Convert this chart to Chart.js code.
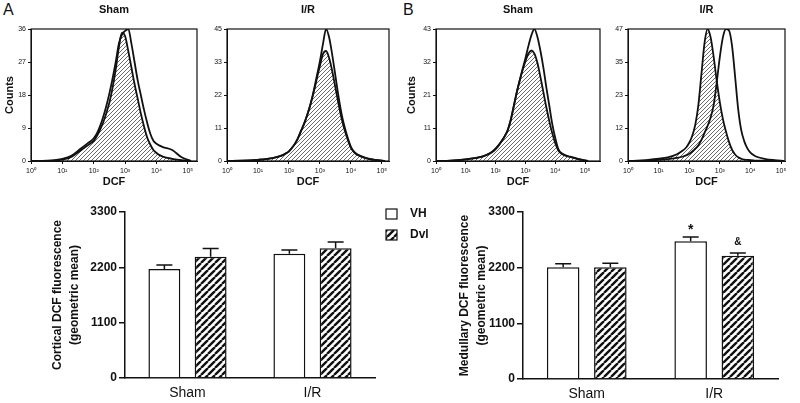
<!DOCTYPE html>
<html lang="en">
<head>
<meta charset="UTF-8">
<title>DCF fluorescence</title>
<script src="https://cdn.jsdelivr.net/npm/chart.js"></script>
<style>
  body { margin: 0; width: 800px; height: 403px; position: relative; overflow: hidden; background: #fff;
         font-family: "Liberation Sans", Arial, sans-serif; }
  canvas, .panel { position: absolute; }
  .panel { font-size: 16px; line-height: 1; color: #111; }
</style>
</head>
<body>
<div class="panel" style="left:3px;top:2px">A</div>
<div class="panel" style="left:403px;top:2px">B</div>
<canvas id="h1" width="205" height="190" style="left:0;top:0"></canvas>
<canvas id="h2" width="198" height="190" style="left:200px;top:0"></canvas>
<canvas id="h3" width="208" height="190" style="left:400px;top:0"></canvas>
<canvas id="h4" width="195" height="190" style="left:605px;top:0"></canvas>
<canvas id="cortical" width="345" height="203" style="left:40px;top:200px"></canvas>
<canvas id="medullary" width="420" height="208" style="left:380px;top:195px"></canvas>
<script>
// histogram samples: log10(DCF) position and counts
var logDCF = [0, 0.5, 1.0, 1.3, 1.6, 1.8, 1.9, 2.0, 2.1, 2.2, 2.3, 2.4, 2.5, 2.6, 2.7, 2.8, 2.9, 3.0, 3.1, 3.2, 3.3, 3.4, 3.5, 3.6, 3.7, 3.8, 3.9, 4.0, 4.1, 4.2, 4.5, 4.8, 5.1];
var cortexShamVH  = [0, 0.1, 0.6, 1.5, 3.5, 4.8, 5.4, 6.2, 7.5, 9.5, 12, 15, 18.5, 22.5, 27, 32, 34.5, 35.5, 36, 32, 27, 22, 18, 14, 10.5, 7.5, 5.5, 4.7, 4.2, 3.8, 3, 1, 0];
var cortexShamDvl = [0, 0, 0.4, 1.2, 3, 4.2, 4.8, 5.5, 6.8, 8.5, 10.5, 13, 16, 20, 25, 31, 35, 34, 30, 25.5, 21, 17, 13, 9.5, 6.5, 4.5, 3, 2.2, 1.6, 1.2, 0.6, 0.2, 0];
var cortexIRVH    = [0, 0.1, 0.4, 0.7, 1.3, 2, 2.6, 3.3, 4.5, 6, 8, 10.5, 13, 16, 19.5, 24, 29, 34, 40, 45, 42, 36, 29, 22, 16, 11.5, 7.8, 4.8, 3.2, 2.3, 1, 0.4, 0];
var cortexIRDvl   = [0, 0.1, 0.4, 0.7, 1.3, 2, 2.6, 3.3, 4.5, 6, 8, 10.5, 13, 16, 19.5, 23.5, 28, 32.5, 36.5, 37.5, 35, 30.5, 25, 19.5, 14.5, 10.5, 7.2, 4.5, 3, 2.1, 0.9, 0.3, 0];
var medShamVH     = [0, 0.1, 0.5, 0.9, 1.6, 2.5, 3.2, 4.1, 5.2, 6.5, 8, 9.8, 13, 17.5, 22, 26, 29.8, 33.5, 37.5, 41, 43, 40.5, 36, 30.5, 24, 18, 12, 7.5, 4, 2.6, 1.4, 0.6, 0];
var medShamDvl    = [0, 0.1, 0.5, 0.9, 1.6, 2.4, 3, 3.9, 5, 6.4, 8, 10, 13.2, 17.5, 22, 26, 29.5, 32.5, 35, 36, 35, 32, 27.5, 22.5, 17.5, 13, 9, 5.8, 3.5, 2.4, 1.3, 0.5, 0];
var medIRVH       = [0, 0.1, 0.4, 0.7, 1.1, 1.6, 2, 2.6, 3.4, 4.4, 5.6, 7.5, 10, 12.5, 15.5, 20, 28, 37, 44, 47, 46.5, 41, 30, 18.5, 11, 7, 4.5, 3, 2.1, 1.5, 0.7, 0.3, 0];
var medIRDvl      = [0, 0.2, 0.8, 1.3, 2.4, 3.8, 4.8, 6.5, 9, 13, 20, 31, 42, 47, 44, 37, 28.5, 21, 15, 10.5, 6.8, 4, 2.3, 1.3, 0.8, 0.5, 0.4, 0.3, 0.2, 0.1, 0.1, 0, 0];

// y tick labels of each histogram
var ticksH1 = [0, 9, 18, 27, 36];
var ticksH2 = [0, 11, 22, 33, 45];
var ticksH3 = [0, 11, 21, 32, 43];
var ticksH4 = [0, 12, 23, 35, 47];
var decades = [0, 1, 2, 3, 4, 5];

// bar charts (geometric mean, SEM)
var groups = ['Sham', 'I/R'];
var cortVH = [2165, 2470];
var cortVHErr = [80, 73];
var cortDvl = [2410, 2580];
var cortDvlErr = [165, 125];
var medVH = [2210, 2720];
var medVHErr = [66, 86];
var medDvl = [2210, 2435];
var medDvlErr = [79, 53];
var medVHMarks = ['', '*'];
var medDvlMarks = ['', '&'];

var INK = '#111';
var FONT = '"Liberation Sans", Arial, sans-serif';
Chart.defaults.font.family = FONT;
Chart.defaults.color = INK;

function hatch(size, lw, color, bg) {
  var c = document.createElement('canvas');
  c.width = size; c.height = size;
  var g = c.getContext('2d');
  if (bg) { g.fillStyle = bg; g.fillRect(0, 0, size, size); }
  g.strokeStyle = color;
  g.lineWidth = lw;
  g.beginPath();
  for (var k = -1; k <= 1; k++) {
    g.moveTo(k * size, size);
    g.lineTo(k * size + size, 0);
  }
  g.stroke();
  return g.createPattern(c, 'repeat');
}

var sup = ['\u2070', '\u00b9', '\u00b2', '\u00b3', '\u2074', '\u2075'];

// box round the histogram + title over it
var frame = {
  id: 'frame',
  afterDraw: function(chart, args, opts) {
    var a = chart.chartArea, ctx = chart.ctx;
    ctx.save();
    ctx.strokeStyle = INK;
    ctx.lineWidth = 1.2;
    ctx.strokeRect(a.left, a.top, a.right - a.left, a.bottom - a.top);
    ctx.fillStyle = INK;
    ctx.font = 'bold 11px ' + FONT;
    ctx.textAlign = 'center';
    ctx.textBaseline = 'middle';
    ctx.fillText(opts.text, (a.left + a.right) / 2, 10);
    ctx.restore();
  }
};

function histogram(id, cfg) {
  function pts(arr) {
    return logDCF.map(function(e, i) { return { x: Math.pow(10, e), y: arr[i] }; });
  }
  var thin = hatch(4, 0.8, '#444', null);
  new Chart(document.getElementById(id), {
    type: 'line',
    data: {
      datasets: [
        { label: 'VH', data: pts(cfg.vh), borderColor: INK, borderWidth: 1.8, fill: false,
          pointRadius: 0, cubicInterpolationMode: 'monotone' },
        { label: 'Dvl', data: pts(cfg.dvl), borderColor: INK, borderWidth: 1.8, fill: 'origin',
          backgroundColor: thin, pointRadius: 0, cubicInterpolationMode: 'monotone' }
      ]
    },
    options: {
      responsive: false,
      animation: false,
      layout: { padding: { top: 29, right: cfg.padRight, left: 0, bottom: 0 } },
      plugins: { legend: { display: false }, tooltip: { enabled: false }, frame: { text: cfg.title } },
      scales: {
        x: {
          type: 'logarithmic', min: 1, max: Math.pow(10, cfg.xMax),
          afterBuildTicks: function(s) { s.ticks = decades.map(function(e) { return { value: Math.pow(10, e) }; }); },
          ticks: { callback: function(v) { return '10' + sup[Math.round(Math.log10(v))]; },
                   font: { size: 7 }, padding: 3, maxRotation: 0, autoSkip: false },
          grid: { drawOnChartArea: false, tickLength: 3, color: INK },
          border: { color: INK },
          title: { display: true, text: 'DCF', font: { size: 11, weight: 'bold' }, padding: { top: 0, bottom: 1 } },
          afterFit: function(s) { s.height = 29; }
        },
        y: {
          min: 0, max: cfg.yMax,
          afterBuildTicks: function(s) { s.ticks = cfg.yTicks.map(function(t, i) { return { value: cfg.yMax * i / 4 }; }); },
          ticks: { callback: function(v, i) { return cfg.yTicks[i]; }, font: { size: 7 }, padding: 2 },
          grid: { drawOnChartArea: false, tickLength: 3, color: INK },
          border: { color: INK },
          title: { display: cfg.counts, text: 'Counts', font: { size: 11, weight: 'bold' },
                   padding: { top: cfg.countsPad || 0, bottom: 0 } },
          afterFit: function(s) { s.width = cfg.yWidth; }
        }
      }
    },
    plugins: [frame]
  });
}

histogram('h1', { vh: cortexShamVH, dvl: cortexShamDvl, yMax: 36, yTicks: ticksH1, xMax: 5.29,
                  yWidth: 31, padRight: 8, title: 'Sham', counts: true, countsPad: 3.5 });
histogram('h2', { vh: cortexIRVH, dvl: cortexIRDvl, yMax: 45, yTicks: ticksH2, xMax: 5.23,
                  yWidth: 27, padRight: 9, title: 'I/R', counts: false });
histogram('h3', { vh: medShamVH, dvl: medShamDvl, yMax: 43, yTicks: ticksH3, xMax: 5.5,
                  yWidth: 36, padRight: 8, title: 'Sham', counts: true, countsPad: 5 });
histogram('h4', { vh: medIRVH, dvl: medIRDvl, yMax: 47, yTicks: ticksH4, xMax: 5.13,
                  yWidth: 23, padRight: 15, title: 'I/R', counts: false });

// error bars (upper half only) and significance marks
var errorBars = {
  id: 'errorBars',
  afterDatasetsDraw: function(chart) {
    var ctx = chart.ctx, y = chart.scales.y;
    chart.data.datasets.forEach(function(ds, di) {
      chart.getDatasetMeta(di).data.forEach(function(bar, i) {
        var top = y.getPixelForValue(ds.data[i] + ds.errors[i]);
        ctx.save();
        ctx.strokeStyle = INK;
        ctx.lineWidth = 1.5;
        ctx.beginPath();
        ctx.moveTo(bar.x, bar.y);
        ctx.lineTo(bar.x, top);
        ctx.moveTo(bar.x - 8, top);
        ctx.lineTo(bar.x + 8, top);
        ctx.stroke();
        if (ds.marks && ds.marks[i]) {
          ctx.fillStyle = INK;
          ctx.font = (ds.marks[i] === '*' ? 'bold 14px ' : 'bold 10px ') + FONT;
          ctx.textAlign = 'center';
          ctx.textBaseline = 'middle';
          ctx.fillText(ds.marks[i], bar.x, top - (ds.marks[i] === '*' ? 7 : 11));
        }
        ctx.restore();
      });
    });
  }
};

var boxLegend = {
  id: 'boxLegend',
  afterDraw: function(chart, args, opts) {
    if (!opts.show) return;
    var ctx = chart.ctx;
    chart.data.datasets.forEach(function(ds, i) {
      var y = opts.y + i * opts.gap;
      ctx.save();
      ctx.fillStyle = ds.backgroundColor;
      ctx.fillRect(opts.x, y, 11, 10);
      ctx.strokeStyle = INK;
      ctx.lineWidth = 1.2;
      ctx.strokeRect(opts.x, y, 11, 10);
      ctx.fillStyle = INK;
      ctx.font = 'bold 12px ' + FONT;
      ctx.textBaseline = 'middle';
      ctx.fillText(ds.label, opts.x + 24, y + 5);
      ctx.restore();
    });
  }
};

function barChart(id, cfg) {
  var thick = hatch(7, 2.4, INK, '#fff');
  new Chart(document.getElementById(id), {
    type: 'bar',
    data: {
      labels: groups,
      datasets: [
        { label: 'VH', data: cfg.vh, errors: cfg.vhErr, marks: cfg.vhMarks, backgroundColor: '#fff',
          borderColor: INK, borderWidth: 1.5, categoryPercentage: 0.74, barPercentage: 0.69 },
        { label: 'Dvl', data: cfg.dvl, errors: cfg.dvlErr, marks: cfg.dvlMarks, backgroundColor: thick,
          borderColor: INK, borderWidth: 1.5, categoryPercentage: 0.74, barPercentage: 0.69 }
      ]
    },
    options: {
      responsive: false,
      animation: false,
      layout: { padding: cfg.pad },
      plugins: { legend: { display: false }, tooltip: { enabled: false },
                 boxLegend: { show: !!cfg.legend, x: 6, y: 14, gap: 21 } },
      scales: {
        x: {
          grid: { display: false, drawTicks: false },
          border: { color: INK, width: 1.5 },
          ticks: { font: { size: 14 }, padding: 7 },
          afterFit: function(s) { s.height = cfg.xHeight; }
        },
        y: {
          min: 0, max: 3300,
          ticks: { stepSize: 1100, font: { size: 12, weight: 'bold' }, padding: 2,
                   callback: function(v) { return String(v); } },
          grid: { drawOnChartArea: false, tickLength: 6, color: INK, lineWidth: 1.5 },
          border: { color: INK, width: 1.5 },
          title: { display: true, text: cfg.yTitle, font: { size: 12, weight: 'bold', lineHeight: 1.4 },
                   padding: { top: cfg.titlePad, bottom: 0 } },
          afterFit: function(s) { s.width = cfg.yWidth; }
        }
      }
    },
    plugins: [errorBars, boxLegend]
  });
}

barChart('cortical', {
  vh: cortVH, vhErr: cortVHErr, dvl: cortDvl, dvlErr: cortDvlErr,
  yTitle: ['Cortical DCF fluorescence', '(geometric mean)'],
  pad: { top: 12, right: 10, left: 0, bottom: 0 }, yWidth: 85, titlePad: 9.6, xHeight: 25
});
barChart('medullary', {
  vh: medVH, vhErr: medVHErr, dvl: medDvl, dvlErr: medDvlErr, vhMarks: medVHMarks, dvlMarks: medDvlMarks,
  yTitle: ['Medullary DCF fluorescence', '(geometric mean)'],
  pad: { top: 17, right: 22, left: 76, bottom: 0 }, yWidth: 67, titlePad: 0, xHeight: 24, legend: true
});
</script>
</body>
</html>
